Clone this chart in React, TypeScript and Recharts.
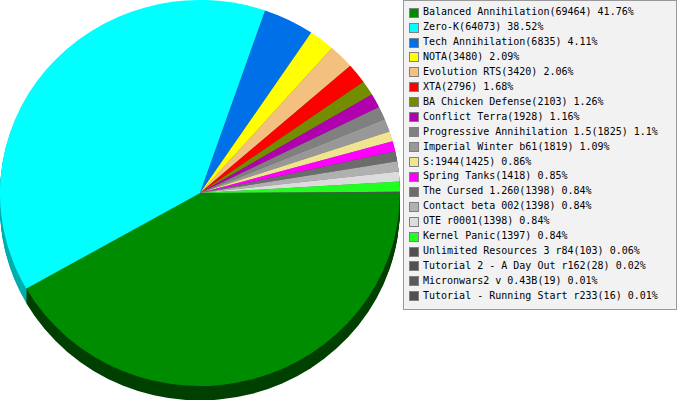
import React from 'react';
import { PieChart, Pie, Cell } from 'recharts';

const names = [
  'Balanced Annihilation',
  'Zero-K',
  'Tech Annihilation',
  'NOTA',
  'Evolution RTS',
  'XTA',
  'BA Chicken Defense',
  'Conflict Terra',
  'Progressive Annihilation 1.5',
  'Imperial Winter b61',
  'S:1944',
  'Spring Tanks',
  'The Cursed 1.260',
  'Contact beta 002',
  'OTE r0001',
  'Kernel Panic',
  'Unlimited Resources 3 r84',
  'Tutorial 2 - A Day Out r162',
  'Micronwars2 v 0.43B',
  'Tutorial - Running Start r233',
];

const values = [69464, 64073, 6835, 3480, 3420, 2796, 2103, 1928, 1825, 1819, 1425, 1418, 1398, 1398, 1398, 1397, 103, 28, 19, 16];

const percentLabels = ['41.76%', '38.52%', '4.11%', '2.09%', '2.06%', '1.68%', '1.26%', '1.16%', '1.1%', '1.09%', '0.86%', '0.85%', '0.84%', '0.84%', '0.84%', '0.84%', '0.06%', '0.02%', '0.01%', '0.01%'];

const colors = [
  '#008c00', '#00ffff', '#0070e8', '#ffff00', '#f4c080', '#ff0000', '#748c00', '#b000b0',
  '#808080', '#989898', '#f0e490', '#ff00ff', '#6c6c6c', '#b0b0b0', '#dcdcdc', '#20ff20',
  '#505050', '#505050', '#5a5a5a', '#505050',
];

const sideColors = [
  '#004000', '#00aeae', '#003c78', '#808000', '#7a6040', '#800000', '#3a4600', '#580058',
  '#404040', '#4c4c4c', '#787248', '#800080', '#363636', '#585858', '#6e6e6e', '#108010',
  '#282828', '#282828', '#2d2d2d', '#282828',
];

const data = names.map((n, i) => ({ name: n, value: values[i] }));

const DEPTH = 15;
const layers = Array.from({ length: DEPTH }, (_, i) => DEPTH - i);

const ROW_H = 14.93;

export default function App() {
  return (
    <div style={{ position: 'absolute', left: 0, top: 0, width: 677, height: 400, background: '#fff', overflow: 'hidden' }}>
      <div style={{ position: 'absolute', left: 0, top: 0, width: 402, height: 420, transform: 'scaleY(0.965)', transformOrigin: '0 0' }}>
        <PieChart width={402} height={420} margin={{ top: 0, right: 0, bottom: 0, left: 0 }}>
          {layers.map((off) => (
            <Pie
              key={'side' + off}
              data={data}
              dataKey="value"
              nameKey="name"
              cx={200}
              cy={200 + off}
              outerRadius={200}
              startAngle={0}
              endAngle={-360}
              stroke="none"
              isAnimationActive={false}
            >
              {data.map((d, i) => (
                <Cell key={i} fill={sideColors[i]} stroke="none" />
              ))}
            </Pie>
          ))}
          <Pie
            data={data}
            dataKey="value"
            nameKey="name"
            cx={200}
            cy={200}
            outerRadius={200}
            startAngle={0}
            endAngle={-360}
            stroke="none"
            isAnimationActive={false}
          >
            {data.map((d, i) => (
              <Cell key={i} fill={colors[i]} stroke="none" />
            ))}
          </Pie>
        </PieChart>
      </div>
      <div
        style={{
          position: 'absolute',
          left: 403,
          top: 0,
          width: 274,
          height: 310,
          boxSizing: 'border-box',
          border: '1px solid #999',
          background: '#f2f2f2',
          fontFamily: '"DejaVu Sans Mono", monospace',
          fontSize: 10,
          color: '#000',
        }}
      >
        {data.map((d, i) => (
          <div
            key={i}
            style={{
              position: 'absolute',
              left: 5,
              top: 4.2 + i * ROW_H,
              height: ROW_H,
              lineHeight: ROW_H + 'px',
              whiteSpace: 'nowrap',
              display: 'flex',
              alignItems: 'center',
            }}
          >
            <span
              style={{
                display: 'inline-block',
                width: 10,
                height: 10,
                boxSizing: 'border-box',
                border: '1px solid #808080',
                background: colors[i],
                marginRight: 4,
              }}
            />
            <span>{`${d.name}(${d.value}) ${percentLabels[i]}`}</span>
          </div>
        ))}
      </div>
    </div>
  );
}
